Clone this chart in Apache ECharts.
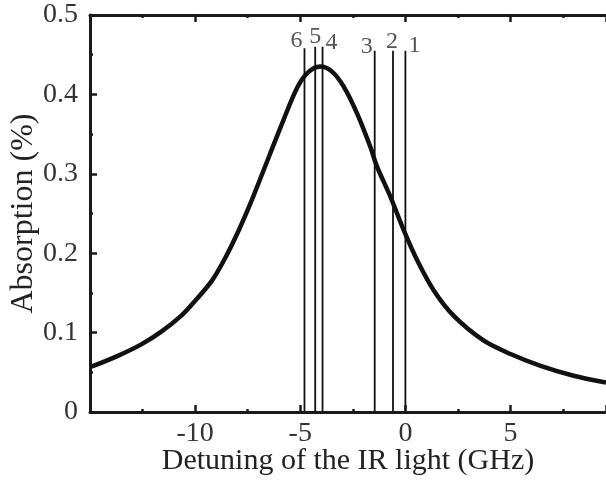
<!DOCTYPE html>
<html>
<head>
<meta charset="utf-8">
<script src="https://cdn.jsdelivr.net/npm/echarts@6/dist/echarts.min.js"></script>
<style>html,body{margin:0;padding:0;background:#fff}#c{width:606px;height:480px}</style>
</head>
<body>
<div id="c"></div>
<script>
// Data
var detuning = [-15.0, -14.84, -13.65, -12.54, -11.59, -10.63, -10.0, -9.2, -8.57, -7.94, -7.38, -6.43, -5.8, -5.16, -4.68, -4.05, -3.49, -2.94, -2.3, -1.67, -1.35, -0.71, -0.08, 0.56, 1.35, 2.3, 3.73, 5.0, 6.43, 8.0, 9.54];
var absorption = [0.057, 0.058, 0.071, 0.0855, 0.1015, 0.122, 0.140, 0.1655, 0.194, 0.228, 0.262, 0.3256, 0.3677, 0.4077, 0.4266, 0.435, 0.4287, 0.41, 0.376, 0.334, 0.309, 0.271, 0.229, 0.191, 0.153, 0.121, 0.0898, 0.073, 0.058, 0.0456, 0.037];
var markerPos = [-4.80, -4.29, -3.94, -1.46, -0.59, 0.0];
var markerTop = [0.458, 0.46, 0.46, 0.455, 0.455, 0.455];
var markerNames = ['6', '5', '4', '3', '2', '1'];
var xTicks = [-10, -5, 0, 5];
var yTicks = [0, 0.1, 0.2, 0.3, 0.4, 0.5];

var FONT = 'Liberation Serif';
var labelOffsets = [[-8, -8], [0, -10], [9, -4], [-8, -4], [-1, -9], [9, -5]];

var curve = detuning.map(function (x, i) { return [x, absorption[i]]; });

var series = [{
  type: 'line', data: curve, smooth: 0.3, showSymbol: false, symbol: 'none',
  lineStyle: { color: '#111', width: 4.5 }, z: 5
}];
markerPos.forEach(function (x, i) {
  series.push({
    type: 'line', data: [[x, 0], [x, markerTop[i]]], showSymbol: false, symbol: 'none',
    lineStyle: { color: '#111', width: 1.8 }, z: 3
  });
});
series.push({
  type: 'scatter', symbolSize: 1, itemStyle: { color: 'rgba(0,0,0,0)' },
  data: markerPos.map(function (x, i) { return { value: [x, markerTop[i]], name: markerNames[i],
    label: { offset: labelOffsets[i] } }; }),
  label: { show: true, position: 'inside', formatter: function (p) { return p.name; },
    fontFamily: FONT, fontSize: 24, color: '#2a2a2a' }, z: 6
});

function xFmt(v) { return xTicks.indexOf(v) >= 0 ? String(v) : ''; }
function yFmt(v) { var r = Math.round(v * 10) / 10; return yTicks.indexOf(r) >= 0 ? (r === 0 ? '0' : r.toFixed(1)) : ''; }

var axisLine = { show: true, onZero: false, lineStyle: { color: '#1a1a1a', width: 3 } };
var tick = { show: true, inside: true, length: 7, lineStyle: { color: '#1a1a1a', width: 2.5 } };
var minor = { show: true, splitNumber: 2, length: 3, lineStyle: { color: '#1a1a1a', width: 2.5 } };
var option = {
  animation: false,
  backgroundColor: '#fff',
  grid: { left: 90, right: 0, top: 15, bottom: 68, containLabel: false, outerBoundsMode: 'none' },
  xAxis: [{
    type: 'value', min: -15, max: 9.54, interval: 5, position: 'bottom',
    name: 'Detuning of the IR light (GHz)', nameLocation: 'middle', nameGap: 34, nameMoveOverlap: false,
    nameTextStyle: { fontFamily: FONT, fontSize: 30, color: '#222' },
    axisLine: axisLine, axisTick: tick, minorTick: minor,
    axisLabel: { formatter: xFmt, fontFamily: FONT, fontSize: 28, color: '#333', margin: 8, showMinLabel: false, showMaxLabel: false },
    splitLine: { show: false }
  }, {
    type: 'value', min: -15, max: 9.54, interval: 5, position: 'top',
    axisLine: axisLine, axisTick: tick, minorTick: minor,
    axisLabel: { show: false }, splitLine: { show: false }
  }],
  yAxis: [{
    type: 'value', min: 0, max: 0.5, interval: 0.1,
    name: 'Absorption (%)', nameLocation: 'middle', nameGap: 50, nameRotate: 90, nameMoveOverlap: false,
    nameTextStyle: { fontFamily: FONT, fontSize: 32, color: '#222' },
    axisLine: axisLine, axisTick: tick, minorTick: minor,
    axisLabel: { formatter: yFmt, fontFamily: FONT, fontSize: 28, color: '#333', margin: 12 },
    splitLine: { show: false }
  }],
  series: series
};
var chart = echarts.init(document.getElementById('c'), null, { renderer: 'canvas' });
chart.setOption(option);
</script>
</body>
</html>
